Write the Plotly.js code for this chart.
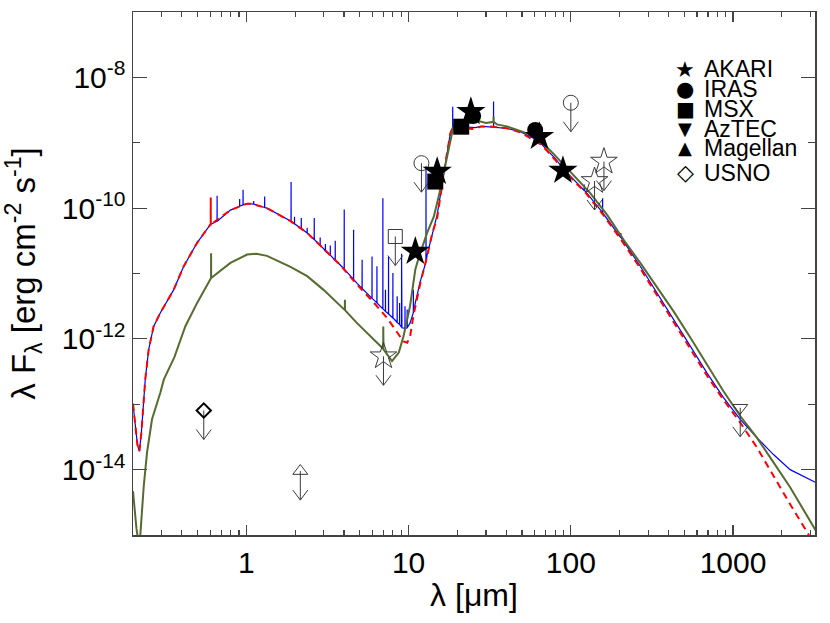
<!DOCTYPE html>
<html><head><meta charset="utf-8">
<script src="https://cdn.plot.ly/plotly-3.0.1.min.js"></script>
<style>html,body{margin:0;padding:0;background:#fff}#chart{width:830px;height:623px}</style>
</head><body><div id="chart"></div>
<script>
// ---------- Model A (blue, with emission lines): continuum ----------
const lamA  = [0.200,0.207,0.213,0.219,0.225,0.232,0.238,0.250,0.268,0.295,0.356,0.411,0.497,0.600,0.797,1.01,1.06,1.34,1.87,2.37,2.99,3.79,4.81,6.08,7.37,8.3,9.1,9.6,10.2,11.0,11.8,13.0,14.3,15.0,15.7,16.8,18.1,19.0,20.3,22.5,25.8,28,31,36,40.4,48.8,58.9,64.8,71.2,80,90,104,122.8,157,205,268,339,430,545,690,873,1107,1402,1775,2248,3250];
const fluxA = [1.02e-13,4.47e-14,2.40e-14,1.91e-14,3.55e-14,1.00e-13,2.40e-13,6.92e-13,1.55e-12,2.51e-12,5.62e-12,1.29e-11,2.95e-11,5.62e-11,9.33e-11,1.17e-10,1.17e-10,1.00e-10,6.31e-11,4.17e-11,2.40e-11,1.35e-11,7.08e-12,3.98e-12,2.51e-12,1.91e-12,1.48e-12,1.45e-12,1.74e-12,3.55e-12,7.59e-12,1.91e-11,4.68e-11,7.94e-11,1.58e-10,4.68e-10,1.41e-9,1.82e-9,1.86e-9,1.74e-9,1.70e-9,1.78e-9,1.78e-9,1.70e-9,1.66e-9,1.48e-9,1.17e-9,1.00e-9,7.94e-10,5.75e-10,3.98e-10,2.75e-10,1.82e-10,8.51e-11,3.47e-11,1.29e-11,5.01e-12,2.00e-12,7.76e-13,3.02e-13,1.26e-13,5.89e-14,3.09e-14,1.70e-14,1.00e-14,6.31e-15];
// Model A emission lines: wavelength, continuum level under line, line peak
const lineLamA  = [0.660,0.909,0.954,1.109,1.296,1.886,1.98,2.18,2.37,2.62,2.85,3.07,3.29,3.53,4.01,4.58,5.17,5.95,6.38,6.94,7.2,7.52,8.0,8.5,8.8,9.05,9.5,9.8,10.7,12.8,18.7,33.4,121,157,203];
const lineBaseA = [6.31e-11,1.07e-10,1.12e-10,1.15e-10,1.02e-10,6.31e-11,5.75e-11,4.90e-11,4.17e-11,3.31e-11,2.69e-11,2.19e-11,1.91e-11,1.58e-11,1.17e-11,8.13e-12,5.89e-12,4.17e-12,3.55e-12,2.88e-12,2.63e-12,2.40e-12,2.09e-12,1.78e-12,1.66e-12,1.51e-12,1.45e-12,1.48e-12,2.51e-12,1.51e-11,1.74e-9,1.74e-9,1.86e-10,8.51e-11,3.55e-11];
const lineTopA  = [1.55e-10,1.38e-10,1.91e-10,1.29e-10,1.51e-10,2.51e-10,7.41e-11,7.08e-11,5.01e-11,7.08e-11,3.55e-11,2.82e-11,2.69e-11,3.16e-11,9.55e-11,4.68e-11,1.62e-11,1.82e-11,1.29e-11,1.41e-10,5.62e-12,1.82e-11,1.02e-11,4.47e-12,3.55e-12,2.00e-11,3.16e-12,2.82e-12,5.62e-12,4.37e-10,3.55e-9,4.27e-9,2.29e-10,1.41e-10,4.17e-11];

// ---------- Model B (red dashed) ----------
const lamB  = [0.200,0.207,0.213,0.219,0.225,0.232,0.238,0.250,0.268,0.295,0.356,0.411,0.497,0.600,0.797,1.01,1.06,1.34,1.87,2.37,2.99,3.79,4.81,6.08,7.37,8.3,9.3,9.8,10.2,10.7,11.8,13.0,14.0,15.0,15.7,16.8,18.1,19.0,20.3,22,24.5,26,28,31,36,40.4,48.8,58.9,64.8,71.2,80,90,104,122.8,157,205,268,339,430,545,690,873,1107,1402,1775,2248,2917,3250];
const fluxB = [1.02e-13,4.47e-14,2.40e-14,1.91e-14,3.55e-14,1.00e-13,2.40e-13,6.92e-13,1.55e-12,2.51e-12,5.62e-12,1.29e-11,2.95e-11,5.62e-11,9.33e-11,1.17e-10,1.17e-10,1.00e-10,6.31e-11,4.17e-11,2.40e-11,1.35e-11,6.76e-12,3.63e-12,2.09e-12,1.38e-12,9.12e-13,8.71e-13,1.07e-12,2.24e-12,7.08e-12,1.82e-11,4.17e-11,7.08e-11,1.58e-10,4.68e-10,1.41e-9,1.82e-9,1.78e-9,1.70e-9,1.62e-9,1.66e-9,1.78e-9,1.78e-9,1.70e-9,1.66e-9,1.45e-9,1.12e-9,9.55e-10,7.59e-10,5.50e-10,3.80e-10,2.63e-10,1.74e-10,8.13e-11,3.24e-11,1.20e-11,4.68e-12,1.82e-12,7.08e-13,2.75e-13,1.17e-13,5.25e-14,2.19e-14,7.94e-15,2.95e-15,1.02e-15,6.31e-16];
const lineLamB  = [0.603];
const lineBaseB = [5.62e-11];
const lineTopB  = [1.45e-10];

// ---------- Model C (olive green) ----------
const lamC  = [0.200,0.210,0.219,0.228,0.233,0.244,0.262,0.295,0.310,0.360,0.374,0.420,0.497,0.600,0.797,1.01,1.15,1.34,1.87,2.37,2.99,3.79,4.81,6.08,7.0,7.9,8.7,9.3,10.2,11.0,11.6,13.0,14.3,15.5,16.4,17.2,18.9,20.8,24,26.3,30,35,40.4,50.2,62,78.3,104,131.7,167,211,268,339,430,545,690,873,1107,1402,1775,2248,3250];
const fluxC = [4.68e-15,1.26e-15,6.31e-16,2.51e-15,5.62e-15,1.82e-14,5.89e-14,1.51e-13,2.40e-13,5.25e-13,6.92e-13,1.55e-12,3.55e-12,8.13e-12,1.45e-11,1.95e-11,2.00e-11,1.86e-11,1.26e-11,9.12e-12,5.62e-12,3.16e-12,1.74e-12,9.77e-13,6.92e-13,4.57e-13,6.17e-13,1.10e-12,3.16e-12,1.15e-11,1.82e-11,4.17e-11,7.41e-11,1.70e-10,3.39e-10,6.17e-10,1.78e-9,2.09e-9,2.00e-9,2.19e-9,2.00e-9,1.91e-9,1.78e-9,1.48e-9,1.20e-9,6.76e-10,3.24e-10,1.70e-10,7.94e-11,3.31e-11,1.45e-11,6.31e-12,2.63e-12,1.05e-12,4.07e-13,1.58e-13,6.61e-14,3.09e-14,1.29e-14,5.37e-15,1.15e-15];
const lineLamC  = [0.606,4.05,6.98,33.4];
const lineBaseC = [8.51e-12,2.75e-12,7.08e-13,2.09e-9];
const lineTopC  = [2.04e-11,3.98e-12,1.55e-12,2.51e-9];

// ---------- Photometry: detections ----------
const akariLam  = [11.0,15.0,24.2,64.1,89.4];
const akariFlux = [2.17e-11,3.62e-10,2.98e-9,1.24e-9,3.75e-10];
const irasLam   = [25.0,60.3];
const irasFlux  = [2.56e-9,1.57e-9];
const msxLam    = [14.6,21.1];
const msxFlux   = [2.55e-10,1.76e-9];

// ---------- Photometry: upper limits ----------
const akariLimLam  = [7.0,140,160];
const akariLimFlux = [5.42e-13,2.6e-10,5.15e-10];
const irasLimLam   = [12.0,100];
const irasLimFlux  = [4.87e-10,4.09e-9];
const msxLimLam    = [8.28];
const msxLimFlux   = [3.68e-11];
const aztecLimLam  = [1107];
const aztecLimFlux = [8.85e-14];
const magLimLam    = [2.15];
const magLimFlux   = [9.5e-15];
const usnoLimLam   = [0.546];
const usnoLimFlux  = [8.03e-14];

// ---------- Axis ticks ----------
const xTickVals = [1,10,100,1000];
const xTickText = ['1','10','100','1000'];
const xMinorVals = [0.3,0.4,0.5,0.6,0.7,0.8,0.9,2,3,4,5,6,7,8,9,20,30,40,50,60,70,80,90,200,300,400,500,600,700,800,900,2000,3000];
const yTickVals = [1e-14,1e-12,1e-10,1e-8];
const yTickText = ['10<sup>-14</sup>','10<sup>-12</sup>','10<sup>-10</sup>','10<sup>-8</sup>'];
const yMinorVals = [1e-13,1e-11,1e-9];

const legendNames = ['AKARI','IRAS','MSX','AzTEC','Magellan','USNO'];
const legendGlyphs = ['\u2605','\u25CF','\u25A0','\u25BC','\u25B2','\u25C7'];
const legendGlyphSize = [22,21,20,18,18,22];

// ---------- geometry ----------
const W = 830, H = 623;
const M = {l:133, r:15, t:12, b:88};
const xRangeLog = [Math.log10(0.2), Math.log10(3200)];
const yRangeLog = [-15, -7];
const plotW = W - M.l - M.r, plotH = H - M.t - M.b;
const pxDecX = plotW / (xRangeLog[1] - xRangeLog[0]);
const pxDecY = plotH / (yRangeLog[1] - yRangeLog[0]);

function withLines(lam, flux, lLam, lBase, lTop) {
  const pts = lam.map((l, i) => [l, flux[i]]);
  lLam.forEach((l, i) => {
    pts.push([l * 0.9993, lBase[i]], [l, lTop[i]], [l * 1.0007, lBase[i]]);
  });
  pts.sort((a, b) => a[0] - b[0]);
  return {x: pts.map(p => p[0]), y: pts.map(p => p[1])};
}
// downward arrows for upper limits (pixel-sized, computed from the data point)
function arrows(lam, flux) {
  const x = [], y = [];
  const stem = 29, headH = 10, headW = 7.5;
  lam.forEach((l, i) => {
    const f = flux[i];
    const tip = f * Math.pow(10, -stem / pxDecY);
    const armY = tip * Math.pow(10, headH / pxDecY);
    const xl = l * Math.pow(10, -headW / pxDecX), xr = l * Math.pow(10, headW / pxDecX);
    x.push(l, l, null, xl, l, xr, null);
    y.push(f, tip, null, armY, tip, armY, null);
  });
  return {x, y};
}

const A = withLines(lamA, fluxA, lineLamA, lineBaseA, lineTopA);
const B = withLines(lamB, fluxB, lineLamB, lineBaseB, lineTopB);
const C = withLines(lamC, fluxC, lineLamC, lineBaseC, lineTopC);

const allLimLam = [].concat(akariLimLam, irasLimLam, msxLimLam, aztecLimLam, magLimLam, usnoLimLam);
const allLimFlux = [].concat(akariLimFlux, irasLimFlux, msxLimFlux, aztecLimFlux, magLimFlux, usnoLimFlux);
const AR = arrows(allLimLam, allLimFlux);

const limColor = '#3a3a3a';
const traces = [
  {x: A.x, y: A.y, mode: 'lines', line: {color: '#0000ff', width: 1.2}, name: 'model A'},
  {x: B.x, y: B.y, mode: 'lines', line: {color: '#ff0000', width: 2, dash: '7px,5px'}, name: 'model B'},
  {x: C.x, y: C.y, mode: 'lines', line: {color: '#556b2f', width: 2}, name: 'model C'},
  {x: AR.x, y: AR.y, mode: 'lines', line: {color: limColor, width: 1}, name: 'limits', connectgaps: false},
  {x: akariLimLam, y: akariLimFlux, mode: 'markers', marker: {symbol: 'star-open', size: 20, color: limColor, line: {width: 1, color: limColor}}},
  {x: irasLimLam, y: irasLimFlux, mode: 'markers', marker: {symbol: 'circle-open', size: 15, color: limColor, line: {width: 1, color: limColor}}},
  {x: msxLimLam, y: msxLimFlux, mode: 'markers', marker: {symbol: 'square-open', size: 14, color: limColor, line: {width: 1, color: limColor}}},
  {x: aztecLimLam, y: aztecLimFlux, mode: 'markers', marker: {symbol: 'triangle-down-open', size: 13, color: limColor, line: {width: 1, color: limColor}}},
  {x: magLimLam, y: magLimFlux, mode: 'markers', marker: {symbol: 'triangle-up-open', size: 13, color: limColor, line: {width: 1, color: limColor}}},
  {x: usnoLimLam, y: usnoLimFlux, mode: 'markers', marker: {symbol: 'diamond-open', size: 11, color: '#000', line: {width: 2, color: '#000'}}},
  {x: akariLam, y: akariFlux, mode: 'markers', marker: {symbol: 'star', size: 22, color: '#000', line: {width: 0}}},
  {x: irasLam, y: irasFlux, mode: 'markers', marker: {symbol: 'circle', size: 16, color: '#000', line: {width: 0}}},
  {x: msxLam, y: msxFlux, mode: 'markers', marker: {symbol: 'square', size: 16, color: '#000', line: {width: 0}}}
];

const font = 'Liberation Sans, Arial, Helvetica, sans-serif';
const legendRowsY = [69.3, 89.3, 109.3, 128.5, 147.8, 172.7];
const annotations = [];
legendNames.forEach((n, i) => {
  const yp = (H - M.b - legendRowsY[i]) / plotH;
  annotations.push({xref: 'paper', yref: 'paper', x: (685 - M.l) / plotW, y: yp, xanchor: 'center', yanchor: 'middle',
    text: legendGlyphs[i], showarrow: false, font: {family: 'DejaVu Sans', size: legendGlyphSize[i], color: '#000'}});
  annotations.push({xref: 'paper', yref: 'paper', x: (702 - M.l) / plotW, y: yp, xanchor: 'left', yanchor: 'middle',
    text: n, showarrow: false, font: {family: font, size: 23, color: '#000'}});
});

const axisCommon = {
  type: 'log', showgrid: false, zeroline: false, showline: true, linecolor: '#444', linewidth: 1.5,
  mirror: 'allticks', ticks: 'inside', tickcolor: '#444', tickwidth: 1.2, tickmode: 'array',
  tickfont: {family: font, size: 30, color: '#000'}
};
const layout = {
  width: W, height: H, margin: M, paper_bgcolor: '#fff', plot_bgcolor: '#fff', showlegend: false,
  font: {family: font, color: '#000'},
  xaxis: Object.assign({}, axisCommon, {
    range: xRangeLog, tickvals: xTickVals, ticktext: xTickText, ticklen: 10,
    minor: {tickmode: 'array', tickvals: xMinorVals, ticklen: 5, ticks: 'inside', tickcolor: '#444', tickwidth: 1.2},
    title: {text: 'λ [μm]', font: {family: font, size: 32, color: '#000'}, standoff: 6}
  }),
  yaxis: Object.assign({}, axisCommon, {
    range: yRangeLog, tickvals: yTickVals, ticktext: yTickText, ticklen: 14,
    minor: {tickmode: 'array', tickvals: yMinorVals, ticklen: 7, ticks: 'inside', tickcolor: '#444', tickwidth: 1.2},
    title: {text: 'λ F<sub>λ</sub> [erg cm<sup>-2</sup> s<sup>-1</sup>]', font: {family: font, size: 33, color: '#000'}, standoff: 20}
  }),
  annotations: annotations
};
Plotly.newPlot('chart', traces, layout, {staticPlot: true, displayModeBar: false});
</script>
</body></html>
